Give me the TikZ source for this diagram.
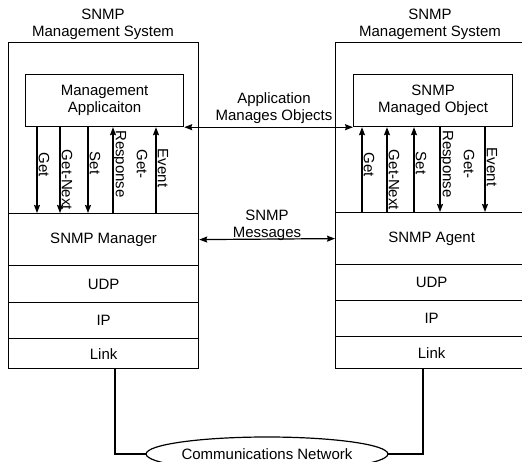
\documentclass[tikz,border=0pt]{standalone}
\usepackage{fontspec}
\setmainfont{Liberation Sans}
\usetikzlibrary{arrows.meta,shapes.geometric}
\begin{document}
\begin{tikzpicture}[x=1bp,y=-1bp, line width=1.2bp,
  every node/.style={font=\fontsize{15bp}{17bp}\selectfont, inner sep=0pt},
  sysbox/.style={draw, minimum width=190bp, minimum height=326bp, anchor=north west},
  appbox/.style={draw, minimum width=158bp, minimum height=52bp, anchor=north west, align=center},
  layer/.style={draw, minimum width=190bp, anchor=north west},
  lbl/.style={rotate=-90},
  arr/.style={-{Stealth[length=8bp,width=6bp,inset=1bp]}},
  darr/.style={{Stealth[length=8bp,width=6bp,inset=1bp]}-{Stealth[length=8bp,width=6bp,inset=1bp]}}
]
\useasboundingbox (0,0) rectangle (522,462);

% titles
\node[align=center] (tL) at (103,24) {SNMP\\Management System};
\node[align=center] (tR) at (430,24) {SNMP\\Management System};

% system boxes
\node[sysbox] (sysL) at (8,42) {};
\node[sysbox, minimum width=192bp] (sysR) at (335,42) {};

% application boxes
\node[appbox] (appL) at (25,74) {Management\\Applicaiton};
\node[appbox, minimum width=159bp] (appR) at (353,74) {SNMP\\Managed Object};

% left layers
\node[layer, minimum height=52bp] (mgrL) at (8,213) {SNMP Manager};
\node[layer, minimum height=37bp] (udpL) at (8,265) {UDP};
\node[layer, minimum height=36bp] (ipL) at (8,302) {IP};
\node[layer, minimum height=30bp] (linkL) at (8,338) {Link};

% right layers
\node[layer, minimum width=192bp, minimum height=52bp] (agR) at (335,212) {SNMP Agent};
\node[layer, minimum width=192bp, minimum height=36bp] (udpR) at (335,264) {UDP};
\node[layer, minimum width=192bp, minimum height=36bp] (ipR) at (335,300) {IP};
\node[layer, minimum width=192bp, minimum height=32bp] (linkR) at (335,336) {Link};

% left operation arrows
\draw[arr] (appL.south -| 37,0) -- (mgrL.north -| 37,0);
\draw[arr] (appL.south -| 60,0) -- (mgrL.north -| 60,0);
\draw[arr] (appL.south -| 88,0) -- (mgrL.north -| 88,0);
\draw[arr] (mgrL.north -| 113,0) -- (appL.south -| 113,0);
\draw[arr] (mgrL.north -| 156,0) -- (appL.south -| 156,0);
\node[lbl] (lgL) at (44,165) {Get};
\node[lbl] (lgnL) at (67,180) {Get-Next};
\node[lbl] (lsL) at (95,163) {Set};
\node[lbl, align=center, font=\fontsize{15bp}{21bp}\selectfont] (lgrL) at (130,164) {Get-\\Response};
\node[lbl] (leL) at (163,168) {Event};

% right operation arrows
\draw[arr] (agR.north -| 362,0) -- (appR.south -| 362,0);
\draw[arr] (agR.north -| 387,0) -- (appR.south -| 387,0);
\draw[arr] (agR.north -| 414,0) -- (appR.south -| 414,0);
\draw[arr] (appR.south -| 440,0) -- (agR.north -| 440,0);
\draw[arr] (appR.south -| 485,0) -- (agR.north -| 485,0);
\node[lbl] (lgR) at (369,165) {Get};
\node[lbl] (lgnR) at (394,180) {Get-Next};
\node[lbl] (lsR) at (421,163) {Set};
\node[lbl, align=center, font=\fontsize{15bp}{21bp}\selectfont] (lgrR) at (457,164) {Get-\\Response};
\node[lbl] (leR) at (492,167) {Event};

% application manages objects
\draw[darr] (appL.south east) -- (appR.south west);
\node[align=center] (amo) at (274,108) {Application\\Manages Objects};

% SNMP messages
\draw[darr] (mgrL.east) -- (agR.west);
\node[align=center] (msg) at (267,225) {SNMP\\Messages};

% network
\node[draw, ellipse, minimum width=226bp, minimum height=34bp] (net) at (267,454) {Communications Network};
\draw (linkL.south -| 115,0) |- (net.west);
\draw (linkR.south -| 423,0) |- (net.east);
\end{tikzpicture}
\end{document}
